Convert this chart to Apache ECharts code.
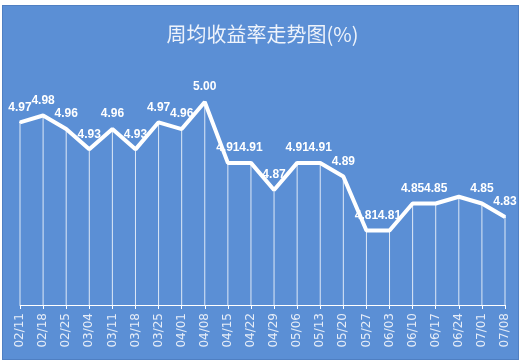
<!DOCTYPE html>
<html>
<head>
<meta charset="utf-8">
<script src="https://cdn.jsdelivr.net/npm/echarts@6/dist/echarts.min.js"></script>
<style>
html,body{margin:0;padding:0;background:#fff;}
#wrap{position:absolute;left:2px;top:5px;width:517px;height:355px;background:#5b8fd5;border:1px solid #4f7fc2;box-sizing:border-box;}
#chart{position:absolute;left:0;top:0;width:525px;height:362px;}
</style>
</head>
<body>
<div id="wrap"></div>
<div id="chart"></div>
<script>
const titleText = '周均收益率走势图(%)';
const categories = ['02/11','02/18','02/25','03/04','03/11','03/18','03/25','04/01','04/08','04/15','04/22','04/29','05/06','05/13','05/20','05/27','06/03','06/10','06/17','06/24','07/01','07/08'];
const values = [4.97,4.98,4.96,4.93,4.96,4.93,4.97,4.96,5.00,4.91,4.91,4.87,4.91,4.91,4.89,4.81,4.81,4.85,4.85,4.86,4.85,4.83];
const hiddenLabels = ['06/24'];

const lineData = values.map((v, i) => hiddenLabels.includes(categories[i]) ? {value: v, label: {show: false}} : v);

const chart = echarts.init(document.getElementById('chart'), null, {renderer: 'canvas'});
chart.setOption({
  backgroundColor: 'transparent',
  animation: false,
  title: {
    text: titleText,
    left: 'center',
    top: 19,
    textStyle: {color: '#eef3fb', fontSize: 20, fontWeight: 'normal', fontFamily: 'Noto Sans CJK SC'}
  },
  grid: {left: 20, right: 20, top: 102, bottom: 57, containLabel: false},
  xAxis: {
    type: 'category',
    data: categories,
    boundaryGap: false,
    axisLine: {lineStyle: {color: '#ffffff', width: 1}},
    axisTick: {show: true, length: 4, alignWithLabel: true, lineStyle: {color: '#ffffff'}},
    axisLabel: {rotate: 90, color: '#e6edf8', fontSize: 12, fontFamily: 'DejaVu Sans', margin: 8, interval: 0}
  },
  yAxis: {
    type: 'value',
    min: 4.7,
    max: 5.0,
    show: false,
    splitLine: {show: false}
  },
  series: [
    {
      type: 'bar',
      data: values,
      barWidth: 1,
      itemStyle: {color: 'rgba(255,255,255,0.8)'},
      silent: true,
      z: 1
    },
    {
      type: 'line',
      data: lineData,
      symbol: 'circle',
      symbolSize: 2,
      showSymbol: true,
      itemStyle: {color: '#ffffff'},
      lineStyle: {color: '#ffffff', width: 4},
      label: {
        show: true,
        position: 'top',
        distance: 8,
        color: '#ffffff',
        fontSize: 12,
        fontWeight: 'bold',
        fontFamily: 'Liberation Sans',
        formatter: function (p) { return Number(p.value).toFixed(2); }
      },
      z: 3
    }
  ]
});
</script>
</body>
</html>
